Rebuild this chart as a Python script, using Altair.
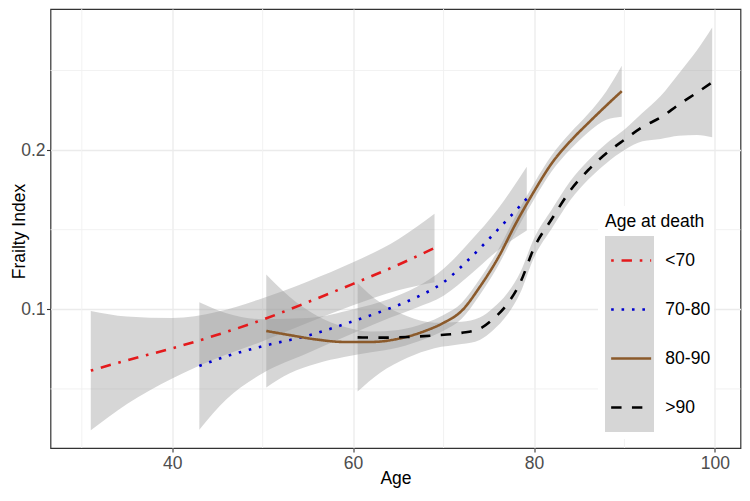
import altair as alt
import pandas as pd

FONT = "Liberation Sans"

groups = ["<70", "70-80", "80-90", ">90"]
colors = ["#E41A1C", "#0000CD", "#8B5A2B", "#000000"]
dashes = [[2.6, 7.8, 10.4, 7.8], [2.6, 7.8], [1, 0], [10.4, 10.4]]

x_major = [40, 60, 80, 100]
x_minor = [30, 50, 70, 90]
y_major = [0.1, 0.2]
y_minor = [0.05, 0.15, 0.25]

# <70
age_a = [31, 35, 40, 45, 50, 55, 60, 65, 69]
fit_a = [0.0615, 0.068, 0.0755, 0.084, 0.0935, 0.1045, 0.116, 0.128, 0.1385]
ci_a = [0.0375, 0.0275, 0.019, 0.0145, 0.0135, 0.013, 0.0135, 0.016, 0.0215]

# 70-80
age_b = [43, 46, 50, 55, 60, 64, 67, 70, 73, 76, 79.2]
fit_b = [0.0644, 0.0705, 0.0768, 0.0835, 0.0925, 0.1005, 0.1075, 0.117, 0.1325, 0.150, 0.1695]
ci_b = [0.040, 0.027, 0.017, 0.011, 0.0075, 0.006, 0.0065, 0.0085, 0.0105, 0.013, 0.0200]

# 80-90
age_c = [50.4, 53, 56, 59, 62, 65, 68, 70, 72, 74, 76, 78, 80, 82, 84, 86, 88, 89.7]
fit_c = [0.0864, 0.0838, 0.081, 0.0795, 0.0795, 0.0815, 0.0865, 0.0915, 0.099, 0.114,
         0.132, 0.154, 0.174, 0.192, 0.2055, 0.217, 0.228, 0.237]
ci_c = [0.0355, 0.024, 0.015, 0.0095, 0.0065, 0.0055, 0.005, 0.005, 0.005, 0.005,
        0.005, 0.005, 0.005, 0.005, 0.0052, 0.0058, 0.009, 0.016]

# >90
age_d = [60.5, 63, 66, 69, 72, 74, 75.5, 77, 78.5, 80, 82, 84, 86, 88, 90, 92, 94, 96, 98, 99.7]
fit_d = [0.0824, 0.0822, 0.0826, 0.0836, 0.0852, 0.0878, 0.094, 0.103, 0.117, 0.1385,
         0.157, 0.1745, 0.1875, 0.198, 0.2065, 0.2145, 0.2205, 0.2285, 0.236, 0.2425]
ci_d = [0.034, 0.022, 0.013, 0.008, 0.007, 0.007, 0.007, 0.0068, 0.0065, 0.006,
        0.006, 0.006, 0.006, 0.0062, 0.0065, 0.009, 0.0135, 0.0195, 0.0265, 0.0345]

rows = []
for g, ages, fits, cis in zip(groups, [age_a, age_b, age_c, age_d],
                              [fit_a, fit_b, fit_c, fit_d], [ci_a, ci_b, ci_c, ci_d]):
    for a, f, c in zip(ages, fits, cis):
        rows.append({"grp": g, "grp_key": g, "age": a, "fit": f, "lo": f - c, "hi": f + c})
df = pd.DataFrame(rows)

xscale = alt.Scale(domain=[26.545, 102.83], nice=False, zero=False)
yscale = alt.Scale(domain=[0.0129, 0.2886], nice=False, zero=False)

ax_x = alt.Axis(
    values=x_major, format="d", title="Age", grid=True, gridColor="#EBEBEB", gridWidth=1.3,
    domain=False, ticks=True, tickSize=4, tickColor="#333333", tickWidth=1.1,
    labelFont=FONT, labelFontSize=17.5, labelColor="#4D4D4D", labelPadding=2,
    titleFont=FONT, titleFontSize=17.5, titleColor="#000000", titleFontWeight="normal",
    titleBaseline="alphabetic", titleY=35.5)
ax_y = alt.Axis(
    values=y_major, format=".1f", title="Frailty Index", grid=True, gridColor="#EBEBEB", gridWidth=1.3,
    domain=False, ticks=True, tickSize=4, tickColor="#333333", tickWidth=1.1,
    labelFont=FONT, labelFontSize=17.5, labelColor="#4D4D4D", labelPadding=1.5,
    titleFont=FONT, titleFontSize=17.5, titleColor="#000000", titleFontWeight="normal",
    titleBaseline="alphabetic", titleAngle=270, titleX=-26, titleY=222)

vx = alt.Chart(pd.DataFrame({"v": x_minor})).mark_rule(color="#F0F0F0", strokeWidth=0.9).encode(
    x=alt.X("v:Q", scale=xscale, axis=ax_x))
vy = alt.Chart(pd.DataFrame({"v": y_minor})).mark_rule(color="#F0F0F0", strokeWidth=0.9).encode(
    y=alt.Y("v:Q", scale=yscale, axis=ax_y))

# key background column (white legend box + grey key squares, no text)
legA = alt.Legend(
    title=" ", orient="none", legendX=547.5, legendY=197,
    titleFontSize=17.5, titleFont=FONT, titleFontWeight="normal", titlePadding=5.5,
    labelFontSize=17.5, labelFont=FONT, labelExpr="''", labelOffset=53,
    symbolType="square", symbolSize=2401, symbolStrokeWidth=0,
    clipHeight=49, rowPadding=0, padding=7, fillColor="white",
)

legB = alt.Legend(
    title="Age at death", orient="none", legendX=547.5, legendY=197,
    titleFontSize=17.5, titleFont=FONT, titleFontWeight="normal", titleColor="#000000",
    titlePadding=5.5,
    labelFontSize=17.5, labelFont=FONT, labelColor="#000000", labelOffset=12.7,
    symbolType="stroke", symbolSize=1600, symbolStrokeWidth=2.6, symbolOffset=4.65,
    clipHeight=49, rowPadding=0, padding=7,
)

area = alt.Chart(df).mark_area(opacity=0.4, interpolate="monotone", clip=True).encode(
    x=alt.X("age:Q", scale=xscale, axis=ax_x),
    y=alt.Y("lo:Q", scale=yscale, axis=ax_y),
    y2="hi:Q",
    fill=alt.Fill("grp_key:N", scale=alt.Scale(range=["#999999"] * 4), legend=legA),
)

line = alt.Chart(df).mark_line(strokeWidth=2.6, interpolate="monotone", strokeCap="butt", clip=True).encode(
    x=alt.X("age:Q", scale=xscale, axis=ax_x),
    y=alt.Y("fit:Q", scale=yscale, axis=ax_y),
    stroke=alt.Stroke("grp:N", scale=alt.Scale(domain=groups, range=colors), legend=legB),
    strokeDash=alt.StrokeDash("grp:N", scale=alt.Scale(domain=groups, range=dashes), legend=legB),
)

chart = alt.layer(vx, vy, area, line).properties(
    width=690, height=439,
    autosize=alt.AutoSizeParams(type="none"),
    padding={"left": 42.5, "top": 1, "right": 1.5, "bottom": 40},
).configure(font=FONT).configure_view(stroke="#333333", strokeWidth=1.2)

chart.save("out.html", embed_options={"renderer": "svg", "actions": False})
